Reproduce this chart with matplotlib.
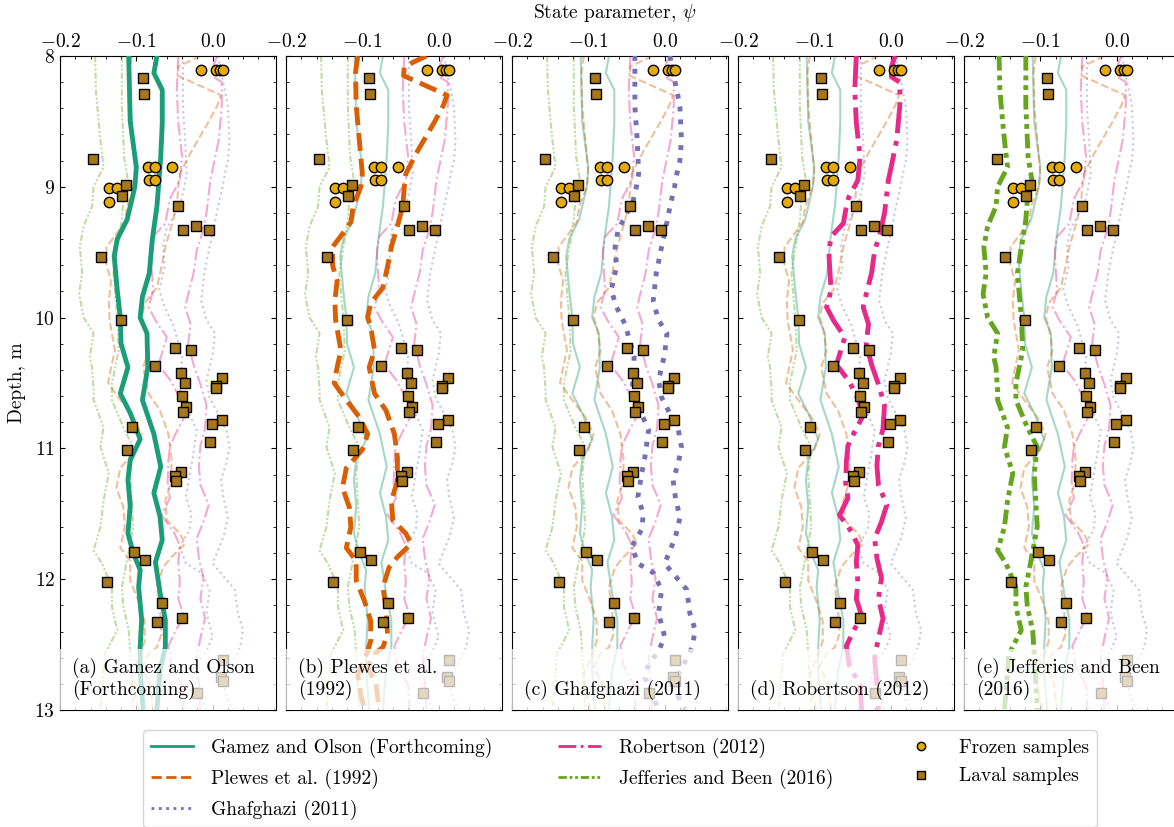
import matplotlib
matplotlib.use("Agg")
import matplotlib.pyplot as plt
from matplotlib.lines import Line2D
from matplotlib.ticker import MultipleLocator

plt.rcParams['font.family'] = 'serif'
plt.rcParams['font.serif'] = ['cmr10']
plt.rcParams['mathtext.fontset'] = 'cm'
plt.rcParams['axes.formatter.use_mathtext'] = True
plt.rcParams['axes.unicode_minus'] = True

# ---- profiles (lower / upper bound of psi vs depth) ----
go_lo_d = [8.0, 8.5, 8.85, 9.0, 9.25, 9.4, 9.53, 9.79, 10.0, 10.2, 10.38, 10.58, 10.73, 10.93,
           11.09, 11.24, 11.44, 11.65, 11.8, 11.93, 12.06, 12.31, 12.52, 12.7, 13.0]
go_lo = [-0.110, -0.108, -0.100, -0.102, -0.112, -0.125, -0.129, -0.125, -0.121, -0.120, -0.111,
         -0.121, -0.108, -0.095, -0.108, -0.111, -0.108, -0.111, -0.104, -0.095, -0.097, -0.093,
         -0.095, -0.095, -0.091]
go_hi_d = [8.0, 8.13, 8.26, 8.51, 8.77, 9.0, 9.15, 9.4, 9.66, 9.84, 10.0, 10.12, 10.38, 10.63,
           10.89, 11.14, 11.34, 11.52, 11.7, 11.87, 12.1, 12.31, 12.52, 12.7, 13.0]
go_hi = [-0.073, -0.077, -0.066, -0.066, -0.068, -0.071, -0.073, -0.079, -0.083, -0.092, -0.095,
         -0.086, -0.085, -0.092, -0.077, -0.068, -0.077, -0.069, -0.066, -0.075, -0.069, -0.062,
         -0.062, -0.069, -0.073]

pl_lo_d = [8.0, 8.13, 8.38, 8.64, 8.9, 9.0, 9.15, 9.27, 9.36, 9.46, 9.6, 9.72, 9.87, 10.02, 10.25,
           10.38, 10.5, 10.63, 10.76, 10.89, 11.01, 11.15, 11.3, 11.45, 11.6, 11.76, 11.86, 12.01,
           12.17, 12.32, 12.47, 12.55, 12.73, 12.88, 13.0]
pl_lo = [-0.106, -0.109, -0.108, -0.104, -0.100, -0.102, -0.112, -0.115, -0.126, -0.139, -0.139,
         -0.133, -0.136, -0.135, -0.128, -0.133, -0.137, -0.121, -0.104, -0.093, -0.100, -0.121,
         -0.126, -0.117, -0.115, -0.121, -0.108, -0.108, -0.097, -0.089, -0.089, -0.093, -0.106,
         -0.102, -0.097]
pl_hi_d = [8.0, 8.08, 8.15, 8.3, 8.38, 8.51, 8.72, 8.9, 9.0, 9.15, 9.3, 9.46, 9.61, 9.77, 9.89,
           10.0, 10.07, 10.25, 10.38, 10.58, 10.71, 10.89, 11.07, 11.25, 11.4, 11.55, 11.65, 11.73,
           11.83, 11.91, 12.06, 12.22, 12.42, 12.52, 12.57, 12.67, 12.8, 13.0]
pl_hi = [-0.016, -0.045, -0.046, 0.011, 0.006, -0.006, -0.027, -0.043, -0.045, -0.047, -0.054,
         -0.062, -0.067, -0.073, -0.089, -0.093, -0.089, -0.084, -0.091, -0.084, -0.069, -0.058,
         -0.054, -0.054, -0.062, -0.060, -0.043, -0.036, -0.054, -0.065, -0.073, -0.069, -0.067,
         -0.073, -0.084, -0.093, -0.082, -0.078]

gh_lo_d = [8.0, 8.39, 8.64, 8.9, 9.0, 9.1, 9.23, 9.33, 9.46, 9.61, 9.79, 9.92, 10.05, 10.17, 10.3,
           10.61, 10.74, 10.86, 11.07, 11.19, 11.37, 11.5, 11.62, 11.75, 11.88, 11.95, 12.08,
           12.26, 12.44, 12.55, 12.65, 12.75, 13.0]
gh_lo = [-0.039, -0.039, -0.036, -0.034, -0.037, -0.041, -0.052, -0.061, -0.065, -0.063, -0.070,
         -0.063, -0.052, -0.046, -0.040, -0.043, -0.030, -0.021, -0.026, -0.030, -0.035, -0.028,
         -0.030, -0.043, -0.035, -0.015, -0.004, -0.008, 0.000, -0.008, -0.021, -0.026, -0.008]
gh_hi_d = [8.0, 8.13, 8.26, 8.39, 8.64, 8.8, 8.9, 9.0, 9.15, 9.33, 9.46, 9.66, 9.87, 10.02, 10.12,
           10.28, 10.48, 10.61, 10.86, 10.99, 11.11, 11.24, 11.37, 11.53, 11.68, 11.88, 12.08,
           12.26, 12.39, 12.52, 12.65, 12.77, 12.9, 13.0]
gh_hi = [0.007, 0.011, 0.016, 0.020, 0.022, 0.020, 0.016, 0.013, 0.007, 0.001, -0.004, -0.011,
         -0.015, -0.008, 0.003, 0.000, -0.008, -0.004, 0.018, 0.022, 0.018, 0.011, 0.014, 0.020,
         0.014, 0.000, 0.029, 0.033, 0.040, 0.036, 0.025, 0.014, 0.018, 0.027]

rb_lo_d = [8.0, 8.26, 8.51, 8.77, 8.95, 9.08, 9.15, 9.28, 9.38, 9.49, 9.61, 9.79, 9.92, 10.03,
           10.15, 10.36, 10.49, 10.62, 10.75, 10.87, 10.98, 11.1, 11.26, 11.38, 11.51, 11.64,
           11.74, 11.87, 12.02, 12.15, 12.28, 12.4, 12.51, 12.66, 12.81, 13.0]
rb_lo = [-0.045, -0.047, -0.045, -0.040, -0.043, -0.055, -0.058, -0.062, -0.078, -0.081, -0.080,
         -0.078, -0.084, -0.074, -0.060, -0.071, -0.054, -0.043, -0.036, -0.047, -0.056, -0.058,
         -0.059, -0.056, -0.067, -0.051, -0.043, -0.045, -0.043, -0.045, -0.038, -0.049, -0.058,
         -0.054, -0.040, -0.038]
rb_hi_d = [8.0, 8.08, 8.16, 8.2, 8.38, 8.64, 8.84, 8.95, 9.05, 9.2, 9.36, 9.49, 9.66, 9.82, 9.92,
           10.05, 10.2, 10.36, 10.51, 10.67, 10.85, 10.98, 11.13, 11.28, 11.43, 11.56, 11.69,
           11.84, 11.99, 12.15, 12.3, 12.45, 12.6, 12.81, 13.0]
rb_hi = [0.006, 0.001, 0.001, 0.012, 0.012, 0.008, 0.001, -0.003, -0.005, -0.008, -0.014, -0.021,
         -0.025, -0.032, -0.036, -0.029, -0.032, -0.025, -0.016, -0.008, -0.010, -0.016, -0.018,
         -0.016, -0.005, -0.012, -0.021, -0.018, -0.012, -0.016, -0.010, -0.016, -0.021, -0.018,
         -0.016]

jb_lo_d = [8.0, 8.26, 8.59, 8.85, 9.0, 9.15, 9.3, 9.46, 9.66, 9.82, 10.0, 10.12, 10.3, 10.38,
           10.56, 10.63, 10.84, 10.99, 11.19, 11.4, 11.6, 11.78, 11.88, 12.06, 12.21, 12.39,
           12.57, 13.0]
jb_lo = [-0.154, -0.153, -0.148, -0.143, -0.156, -0.158, -0.169, -0.174, -0.171, -0.175, -0.169,
         -0.156, -0.161, -0.158, -0.156, -0.156, -0.143, -0.147, -0.136, -0.143, -0.147, -0.156,
         -0.145, -0.132, -0.132, -0.125, -0.141, -0.147]
jb_hi_d = [8.0, 8.38, 8.77, 8.95, 9.1, 9.25, 9.4, 9.66, 10.0, 10.25, 10.5, 10.63, 10.84, 10.99,
           11.19, 11.4, 11.6, 11.85, 12.06, 12.21, 12.39, 12.57, 13.0]
jb_hi = [-0.119, -0.119, -0.116, -0.111, -0.117, -0.119, -0.123, -0.130, -0.125, -0.123, -0.132,
         -0.132, -0.117, -0.104, -0.108, -0.106, -0.104, -0.112, -0.119, -0.117, -0.110, -0.108,
         -0.104]

# ---- samples ----
frozen_psi = [-0.015, 0.004, 0.009, 0.014, -0.085, -0.076, -0.053, -0.083, -0.076, -0.136,
              -0.125, -0.136]
frozen_depth = [8.11, 8.11, 8.11, 8.11, 8.85, 8.85, 8.85, 8.95, 8.95, 9.01, 9.01, 9.12]

laval_psi = [-0.091, -0.090, -0.157, -0.113, -0.119, -0.046, -0.039, -0.022, -0.005, -0.146,
             -0.120, -0.049, -0.028, -0.075, -0.042, -0.036, 0.012, 0.004, 0.005, -0.040,
             -0.035, -0.039, 0.012, -0.001, -0.004, -0.106, -0.112, -0.042, -0.049, -0.048,
             -0.103, -0.088, -0.139, -0.066, -0.073, -0.040, 0.013, 0.011, 0.014, -0.020]
laval_depth = [8.17, 8.29, 8.79, 8.99, 9.07, 9.15, 9.33, 9.30, 9.33, 9.54, 10.02, 10.23, 10.25,
               10.37, 10.42, 10.50, 10.46, 10.52, 10.54, 10.60, 10.68, 10.72, 10.78, 10.81,
               10.95, 10.84, 11.01, 11.18, 11.21, 11.25, 11.79, 11.85, 12.02, 12.18, 12.33,
               12.30, 12.62, 12.75, 12.78, 12.87]

method_labels = ['Gamez and Olson (Forthcoming)', 'Plewes et al. (1992)', 'Ghafghazi (2011)',
                 'Robertson (2012)', 'Jefferies and Been (2016)']
panel_labels = ['(a) Gamez and Olson\n(Forthcoming)', '(b) Plewes et al.\n(1992)',
                '(c) Ghafghazi (2011)', '(d) Robertson (2012)', '(e) Jefferies and Been\n(2016)']
colors = ['#1b9e77', '#d95f02', '#7570b3', '#e7298a', '#66a61e']
styles = ['-', '--', ':', '-.', (0, (3, 1, 1, 1, 1, 1))]

profiles = [((go_lo_d, go_lo), (go_hi_d, go_hi)),
            ((pl_lo_d, pl_lo), (pl_hi_d, pl_hi)),
            ((gh_lo_d, gh_lo), (gh_hi_d, gh_hi)),
            ((rb_lo_d, rb_lo), (rb_hi_d, rb_hi)),
            ((jb_lo_d, jb_lo), (jb_hi_d, jb_hi))]

fig = plt.figure(figsize=(11.74, 8.27), dpi=100)
W, H = 1174, 827

axes = []
for i in range(5):
    ax = fig.add_axes([(60 + i * 226) / W, 1 - 710 / H, 216 / W, 654 / H])
    axes.append(ax)
    for j, (lo, hi) in enumerate(profiles):
        if j == i:
            lw, a, z = 3.5, 1.0, 3
        else:
            lw, a, z = 1.5, 0.4, 2
        for d, p in (lo, hi):
            ax.plot(p, d, color=colors[j], ls=styles[j], lw=lw, alpha=a, zorder=z)
    ax.plot(frozen_psi, frozen_depth, 'o', color='#e6ab02', mec='k', mew=1.0, ms=7.5, zorder=4)
    ax.plot(laval_psi, laval_depth, 's', color='#a6761d', mec='k', mew=1.0, ms=7.5, zorder=4)
    ax.axhspan(12.53, 13.0, color='white', alpha=0.72, lw=0, zorder=5)
    ax.text(0.055, 0.015, panel_labels[i], transform=ax.transAxes, fontsize=14,
            ha='left', va='bottom', zorder=6, linespacing=1.15)

    ax.set_xlim(-0.2, 0.083)
    ax.set_ylim(13, 8)
    ax.xaxis.set_major_locator(MultipleLocator(0.1))
    ax.xaxis.set_minor_locator(MultipleLocator(0.02))
    ax.yaxis.set_major_locator(MultipleLocator(1))
    ax.yaxis.set_minor_locator(MultipleLocator(0.2))
    ax.tick_params(which='both', direction='in', top=True, right=True,
                   labeltop=True, labelbottom=False, labelsize=14)
    if i > 0:
        ax.tick_params(labelleft=False)

axes[0].set_ylabel('Depth, m', fontsize=14, labelpad=6)
fig.text(615 / W, 1 - 13 / H, r'State parameter, $\psi$', fontsize=14, ha='center', va='center')

handles = [Line2D([], [], color=colors[j], ls=styles[j], lw=2) for j in range(5)]
handles.append(Line2D([], [], ls='none', marker='o', color='#e6ab02', mec='k', ms=6))
handles.append(Line2D([], [], ls='none', marker='s', color='#a6761d', mec='k', ms=6))
labels = method_labels + ['Frozen samples', 'Laval samples']
fig.legend(handles, labels, loc='upper center', bbox_to_anchor=(620 / W, 1 - 720 / H),
           ncol=3, fontsize=14, columnspacing=3.4, labelspacing=0.56, handlelength=2.2,
           handletextpad=0.9, frameon=True)

fig.savefig('out.png', dpi=100)
